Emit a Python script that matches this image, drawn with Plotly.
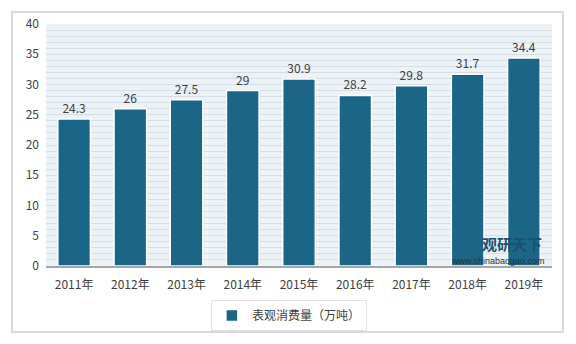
import plotly.graph_objects as go

years = ["2011年", "2012年", "2013年", "2014年", "2015年", "2016年", "2017年", "2018年", "2019年"]
values = [24.3, 26, 27.5, 29, 30.9, 28.2, 29.8, 31.7, 34.4]
labels = ["24.3", "26", "27.5", "29", "30.9", "28.2", "29.8", "31.7", "34.4"]
series_name = "表观消费量（万吨）"
y_ticks = [0, 5, 10, 15, 20, 25, 30, 35, 40]

font_family = "Noto Sans CJK SC, Microsoft YaHei, sans-serif"
text_color = "#404040"

fig = go.Figure()
fig.add_trace(go.Bar(
    x=years, y=values, name=series_name,
    text=labels, textposition="outside",
    textfont=dict(size=12, color=text_color, family=font_family),
    marker=dict(color="#1b6587", line=dict(color="white", width=1.5)),
    cliponaxis=False,
))

fig.update_layout(
    width=576, height=344,
    margin=dict(l=46, r=24, t=24, b=78, autoexpand=False),
    paper_bgcolor="white",
    plot_bgcolor="#edf2f7",
    bargap=0.42,
    font=dict(family=font_family, size=12, color=text_color),
    showlegend=True,
    legend=dict(
        orientation="h", x=0.48, xanchor="center", y=-0.14, yanchor="top",
        bordercolor="#e3e3e3", borderwidth=1, bgcolor="white",
        font=dict(size=12, color=text_color),
    ),
    xaxis=dict(
        showgrid=False, showline=True, linecolor="#a6a6a6", linewidth=2,
        ticks="", tickfont=dict(size=12, color=text_color),
        ticklabelstandoff=7,
    ),
    yaxis=dict(
        range=[0, 40], tickvals=y_ticks, showline=False, zeroline=False,
        gridcolor="#d5dde5", gridwidth=1,
        minor=dict(dtick=1, showgrid=True, gridcolor="#d5dde5", gridwidth=1),
        tickfont=dict(size=12, color=text_color), ticklen=0, ticks="",
        ticklabelstandoff=6,
    ),
    shapes=[
        dict(type="rect", xref="paper", yref="paper", xsizemode="pixel", ysizemode="pixel",
             xanchor=0, yanchor=0, x0=-34, x1=517, y0=-66, y1=254,
             line=dict(color="#d9d9d9", width=2), fillcolor="rgba(0,0,0,0)", layer="below"),
    ],
    annotations=[
        dict(text="<b>观研天下</b>", xref="paper", yref="paper", x=0.985, y=0.0,
             xanchor="right", yanchor="bottom", yshift=10, showarrow=False,
             font=dict(size=15, color="#1b4f72", family=font_family)),
        dict(text="www.chinabaogao.com", xref="paper", yref="paper", x=0.99, y=0.0,
             xanchor="right", yanchor="bottom", yshift=-2, showarrow=False,
             font=dict(size=9, color="#333333", family="Arial, sans-serif")),
    ],
)

fig.write_html("out.html")
